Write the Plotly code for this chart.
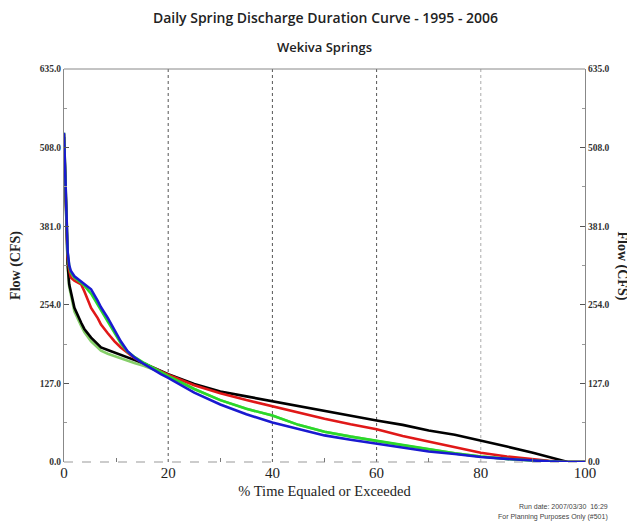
import plotly.graph_objects as go

pct = [0, 0.3, 0.7, 1, 1.3, 2, 3.3, 3.9, 5.2, 6.5, 7.1, 8.4, 9.7, 10.9, 12.2, 13.5,
       15.4, 17.3, 18.6, 20, 25, 30, 35, 40, 45, 50, 55, 60, 65, 70, 75, 80, 85,
       90, 93, 96.7, 100]

flow_black = [525, 430, 320, 287, 275, 249, 225, 215, 201, 190, 185, 181, 177, 174, 170, 166,
              159, 152, 147, 142, 126, 114, 106, 98, 90, 82, 75, 67, 60, 51, 44, 35, 25,
              15, 8, 0, 0]
flow_red = [530, 440, 330, 310, 298, 293, 287, 276, 249, 232, 222, 208, 195, 185, 176, 168,
            159, 152, 146, 141, 124, 111, 100, 90, 79, 70, 61, 53, 42, 33, 24, 15, 9,
            4, 2, 0, 0]
flow_green = [532, 450, 338, 316, 306, 298, 290, 285, 272, 254, 245, 227, 208, 192, 178, 170,
              160, 151, 145, 139, 118, 100, 86, 75, 60, 49, 41, 34, 27, 20, 14, 9, 5,
              2.5, 1, 0, 0]
flow_blue = [532, 450, 340, 318, 309, 300, 292, 288, 279, 260, 250, 233, 212, 195, 179, 169,
             158, 148, 142, 136, 112, 93, 77, 64, 53, 43, 36, 30, 23, 17, 13, 8, 5,
             2, 1, 0, 0]
flow_lightgreen = [525, 425, 315, 283, 270, 243, 220, 210, 195, 185, 180, 175, 171, 167, 164, 160,
                   155, 149, 145, 139, 118, 100, 86, 75, 60, 49, 41, 34, 27, 20, 14, 9, 5,
                   2.5, 1, 0, 0]

y_ticks = [0, 127, 254, 381, 508, 635]
y_labels = ["<b>0.0</b>", "<b>127.0</b>", "<b>254.0</b>", "<b>381.0</b>", "<b>508.0</b>", "<b>635.0</b>"]
x_ticks = [0, 20, 40, 60, 80, 100]
x_gridlines = [20, 40, 60, 80]
x_grid_colors = ["#555", "#555", "#555", "#aaa"]

fig = go.Figure()
series = [
    (flow_lightgreen, "#86cf6a"),
    (flow_black, "#000000"),
    (flow_red, "#e01818"),
    (flow_green, "#2ad82a"),
    (flow_blue, "#1a1ad0"),
]

for gx, gc in zip(x_gridlines, x_grid_colors):
    fig.add_shape(type="line", xref="x", yref="paper", x0=gx, x1=gx, y0=0, y1=1,
                  line=dict(color=gc, width=1, dash="dot"), layer="below")

for vals, col in series:
    fig.add_trace(go.Scatter(x=pct, y=vals, mode="lines",
                             line=dict(color=col, width=2.6), showlegend=False,
                             hoverinfo="skip"))

# right axis dummy
fig.add_trace(go.Scatter(x=[0], y=[0], yaxis="y2", mode="markers",
                         marker=dict(opacity=0), showlegend=False, hoverinfo="skip"))

tickfont_y = dict(family="Liberation Serif", size=9.5, color="#333")
fig.update_layout(
    width=635, height=525,
    margin=dict(l=56, r=58, t=61, b=71),
    paper_bgcolor="white", plot_bgcolor="white",
    title=dict(text="Daily Spring Discharge Duration Curve - 1995 - 2006",
               x=0.5, xanchor="center", y=0.981, yanchor="middle",
               font=dict(family="Open Sans", size=14, color="#222", weight=600)),
    xaxis=dict(range=[0, 100], tickvals=x_ticks, ticktext=[str(v) for v in x_ticks],
               automargin=False,
               showgrid=False, zeroline=False, showline=False,
               ticks="", tickfont=dict(family="Liberation Serif", size=15, color="#222"),
               minor=dict(tickvals=[10, 30, 50, 70, 90], ticks="inside", ticklen=4,
                          tickcolor="#777", showgrid=False),
               title=dict(text="% Time Equaled or Exceeded", standoff=5,
                          font=dict(family="Liberation Serif", size=14.5, color="#222"))),
    yaxis=dict(range=[0, 635], tickvals=y_ticks, ticktext=y_labels,
               automargin=False,
               showgrid=False, zeroline=False, showline=True, linecolor="#888",
               linewidth=1, mirror=False, ticks="inside", ticklen=5, tickcolor="#555",
               tickfont=tickfont_y,
               minor=dict(dtick=63.5, tick0=0, ticks="inside", ticklen=3,
                          tickcolor="#999", showgrid=False),
               title=dict(text="<b>Flow (CFS)</b>", standoff=17,
                          font=dict(family="Liberation Serif", size=14, color="#222"))),
    yaxis2=dict(range=[0, 635], tickvals=y_ticks, ticktext=y_labels,
                automargin=False,
                overlaying="y", side="right", showgrid=False, zeroline=False,
                showline=True, linecolor="#888", linewidth=1,
                ticks="inside", ticklen=5, tickcolor="#555", tickfont=tickfont_y,
                minor=dict(dtick=63.5, tick0=0, ticks="inside", ticklen=3,
                           tickcolor="#999", showgrid=False)),
)

# top frame line and dashed bottom line
fig.add_shape(type="line", xref="paper", yref="paper", x0=0, x1=1, y0=1, y1=1,
              line=dict(color="#888", width=1))
fig.add_shape(type="line", xref="paper", yref="paper", x0=0, x1=1, y0=0, y1=0,
              line=dict(color="#999", width=1, dash="dash"), layer="below")

fig.add_annotation(text="Wekiva Springs", xref="paper", yref="paper", x=0.5, y=1.0,
                   yshift=22, showarrow=False, yanchor="middle",
                   font=dict(family="Open Sans", size=13, color="#222", weight=600))
fig.add_annotation(text="<b>Flow (CFS)</b>", xref="paper", yref="paper", x=1, xshift=47,
                   y=0.5, textangle=90, showarrow=False,
                   font=dict(family="Liberation Serif", size=14, color="#222"))
fig.add_annotation(text="Run date: 2007/03/30  16:29", xref="paper", yref="paper",
                   x=1, xshift=25, xanchor="right", y=0, yshift=-50, showarrow=False,
                   font=dict(family="Liberation Sans", size=7, color="#444"))
fig.add_annotation(text="For Planning Purposes Only (#501)", xref="paper", yref="paper",
                   x=1, xshift=25, xanchor="right", y=0, yshift=-61, showarrow=False,
                   font=dict(family="Liberation Sans", size=7, color="#444"))

fig.write_html("out.html")
